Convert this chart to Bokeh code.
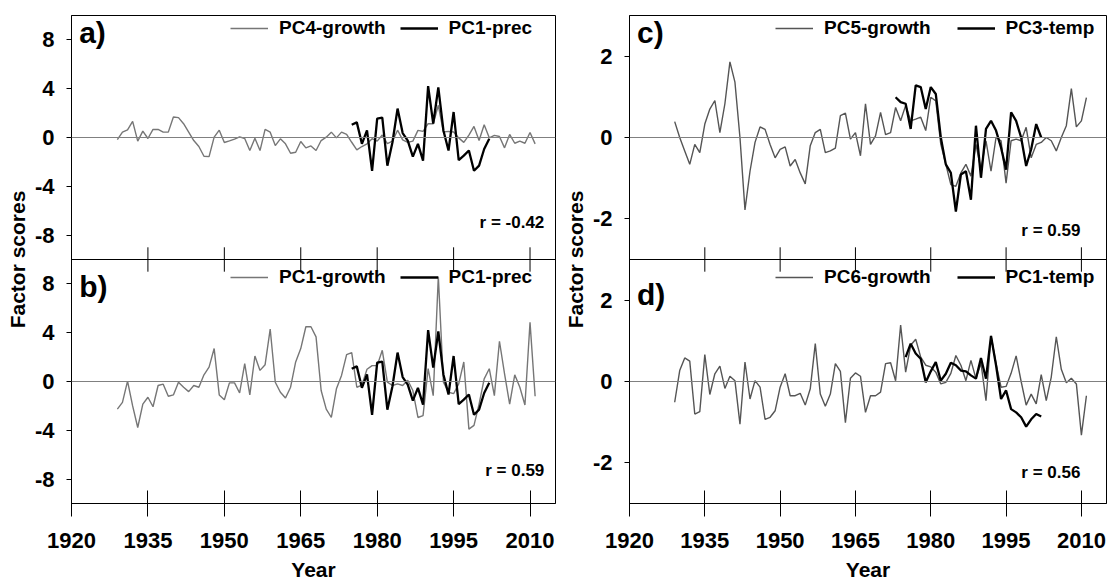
from bokeh.plotting import figure
from bokeh.models import (Range1d, FixedTicker, CustomJSTickFormatter, Span,
                          Legend, LegendItem, Label)
from bokeh.layouts import row
from bokeh.embed import file_html
from bokeh.resources import INLINE

# ---------------- data ----------------
growth_years = list(range(1929, 2012))
prec_years = list(range(1975, 2003))
temp3_years = list(range(1973, 2003))
temp1_years = list(range(1975, 2003))

pc4_growth = [-0.17, 0.44, 0.63, 1.32, -0.3, 0.52, -0.08, 0.66, 0.66, 0.44,
              0.44, 1.68, 1.63, 1.13, 0.44, -0.25, -0.74, -1.54, -1.57, 0.03,
              0.6, -0.41, -0.28, -0.14, 0.05, -0.08, -1.07, -0.06, -1.07, 0.66,
              0.44, -0.66, -0.11, -0.52, -1.29, -1.21, -0.33, -0.85, -0.69, -1.07,
              -0.25, 0.03, 0.44, -0.03, 0.44, 0.25, -0.39, -1.02, -0.74, -0.52,
              -0.1, -0.3, 0.2, -0.5, -0.3, 0.6, -0.2, -0.4, -0.3, 0.58,
              0.5, 1.13, 1.13, 2.64, 0.45, 0.5, 0.45, -0.03, -0.4, 0.2,
              0.91, -0.25, 1.05, -0.03, 0.17, 0.08, -0.85, 0.25, -0.47, -0.3,
              -0.47, 0.41, -0.52]

pc1_prec = [1.05, 1.24, -0.52, 0.58, -2.73, 1.54, 1.63, -2.31, -0.39, 2.37,
            0.36, -0.25, -1.57, -0.52, -1.9, 4.21, 1.13, 4.1, 0.58, -1.07,
            2.09, -1.85, -1.49, -1.07, -2.73, -2.31, -0.94, -0.11]

pc1_growth = [-2.26, -1.71, 0.03, -2.0, -3.77, -1.85, -1.29, -2.07, -0.33, -0.22,
              -1.21, -1.1, -0.06, -0.47, -0.83, -0.33, -0.47, 0.55, 1.18, 2.7,
              -1.1, -1.49, -0.11, -0.11, -0.94, 1.46, -1.1, 2.09, 0.91, 1.38,
              4.3, -0.06, -0.88, -1.35, -0.47, 1.6, 2.7, 4.49, 4.49, 3.66,
              -0.74, -2.26, -2.95, -0.6, 0.5, 2.2, 2.37, -0.47, -0.3, 1.0,
              1.3, 1.3, 2.56, -0.05, -0.33, -0.2, -0.33, 0.1, -0.74, -2.95,
              -2.8, 1.05, -1.16, 8.6, -0.05, -0.88, -1.0, -0.2, 1.6, -3.9,
              -3.6, -1.85, 0.22, 1.05, -1.16, 3.3, 0.63, -1.85, 0.55, -0.47,
              -1.93, 4.85, -1.21]

pc5_growth = [0.39, 0.0, -0.33, -0.66, -0.17, -0.37, 0.33, 0.7, 0.91, 0.12,
              0.83, 1.86, 1.36, 0.0, -1.78, -0.83, -0.12, 0.26, 0.2, -0.17,
              -0.5, -0.29, -0.23, -0.7, -0.54, -0.87, -1.14, -0.2, 0.12, 0.2,
              -0.37, -0.33, -0.26, 0.54, 0.6, -0.04, 0.12, -0.45, 0.83, -0.17,
              0.04, 0.62, 0.07, 0.12, 0.74, 0.41, 0.79, 0.41, 0.45, 0.5,
              0.17, 0.99, 0.9, -0.17, -0.66, -1.16, -1.2, -0.87, -0.66, -0.95,
              -0.17, -0.79, -0.08, -0.83, 0.0, -0.08, -1.12, -0.08, -0.04, -0.08,
              0.25, -0.5, -0.17, -0.12, 0.0, -0.08, -0.33, 0.0, 0.29, 1.2,
              0.26, 0.41, 0.98]

pc3_temp = [0.99, 0.87, 0.83, 0.21, 1.28, 1.24, 0.7, 1.24, 1.07, 0.0,
            -0.66, -0.87, -1.82, -0.91, -0.83, -1.53, 0.29, -0.99, 0.21, 0.41,
            0.17, -0.25, -0.79, 0.62, 0.41, 0.0, -0.7, -0.29, 0.33, 0.0]

pc6_growth = [-0.51, 0.27, 0.58, 0.5, -0.8, -0.74, 0.66, -0.32, 0.19, 0.38,
              -0.17, 0.13, 0.02, -1.05, 0.48, -0.43, 0.02, -0.14, -0.93, -0.88,
              -0.72, -0.14, 0.19, -0.35, -0.35, -0.29, -0.58, -0.18, 0.93, -0.31,
              -0.61, -0.31, 0.44, 0.25, -1.01, 0.08, 0.21, 0.13, -0.76, -0.35,
              -0.35, -0.26, 0.44, 0.46, 0.02, 1.39, 0.23, 0.89, 1.04, 0.6,
              0.4, 0.36, 0.23, -0.06, -0.02, 0.2, 0.64, 0.4, 0.02, 0.52,
              0.07, 0.45, -0.47, 1.12, 0.44, -0.14, -0.12, 0.2, 0.63, 0.0,
              -0.58, -0.31, -0.55, 0.17, -0.47, 0.11, 1.1, 0.3, -0.03, 0.08,
              -0.06, -1.32, -0.35]

pc1_temp = [0.6, 0.93, 0.69, 0.56, -0.02, 0.25, 0.48, 0.02, 0.19, 0.46,
            0.4, 0.27, 0.25, 0.15, 0.07, 0.58, 0.07, 1.12, 0.4, -0.43,
            -0.22, -0.68, -0.76, -0.88, -1.11, -0.93, -0.8, -0.86]

x_ticks = [1920, 1935, 1950, 1965, 1980, 1995, 2010]
left_ticks_a = [8, 4, 0, -4, -8]
right_ticks_c = [2, 0, -2]

panel_labels = ["a)", "b)", "c)", "d)"]
r_texts = ["r = -0.42", "r = 0.59", "r = 0.59", "r = 0.56"]

FONT = "Liberation Sans"
INK = "black"
GRAY_L = "#767676"
GRAY_R = "#555555"


def make_column(half, offset, ticks_top, yfmt_cut, width, border_left, border_right,
                top_series, bot_series, labels, rtexts, legend_x, legend_spacing,
                rlab_x, rlab_y, lab_y, tick_half):
    p = figure(width=width, height=584,
               x_range=Range1d(1920, 2015),
               y_range=Range1d(-3 * half, half),
               min_border_left=border_left, min_border_right=border_right,
               min_border_top=15, min_border_bottom=81,
               output_backend="svg", toolbar_location=None)
    p.extra_y_ranges = {"b": Range1d(-half, 3 * half)}
    p.xgrid.visible = False
    p.ygrid.visible = False
    p.outline_line_color = INK
    p.outline_line_width = 1
    p.outline_line_alpha = 1
    p.background_fill_color = "white"
    p.border_fill_color = "white"

    # x axis
    xa = p.xaxis[0]
    xa.ticker = FixedTicker(ticks=x_ticks)
    xa.axis_label = "Year"
    xa.axis_label_text_font = FONT
    xa.axis_label_text_font_style = "bold"
    xa.axis_label_text_font_size = "21px"
    xa.axis_label_text_color = INK
    xa.axis_label_standoff = 7
    xa.major_label_text_font = FONT
    xa.major_label_text_font_style = "bold"
    xa.major_label_text_font_size = "22px"
    xa.major_label_text_color = INK
    xa.major_label_standoff = 16
    xa.major_tick_in = 13
    xa.major_tick_out = 13
    xa.minor_tick_line_color = None
    xa.axis_line_color = INK
    xa.major_tick_line_color = INK

    # y axis (ticks of both stacked panels on one axis)
    ya = p.yaxis[0]
    all_ticks = ticks_top + [t - offset for t in ticks_top]
    ya.ticker = FixedTicker(ticks=all_ticks)
    ya.formatter = CustomJSTickFormatter(
        code="return String(tick < %s ? tick + %s : tick);" % (yfmt_cut, offset))
    ya.axis_label = "Factor scores"
    ya.axis_label_text_font = FONT
    ya.axis_label_text_font_style = "bold"
    ya.axis_label_text_font_size = "21px"
    ya.axis_label_text_color = INK
    ya.axis_label_standoff = 3
    ya.major_label_text_font = FONT
    ya.major_label_text_font_style = "bold"
    ya.major_label_text_font_size = "22px"
    ya.major_label_text_color = INK
    ya.major_label_standoff = 12
    ya.major_tick_in = 0
    ya.major_tick_out = 5
    ya.minor_tick_line_color = None
    ya.axis_line_color = INK
    ya.major_tick_line_color = INK

    # zero lines and panel boundary
    p.add_layout(Span(location=0, dimension="width", line_color="#808080", line_width=1))
    p.add_layout(Span(location=0, dimension="width", line_color="#808080", line_width=1,
                      y_range_name="b"))
    p.add_layout(Span(location=-half, dimension="width", line_color=INK, line_width=1))
    mid = x_ticks[1:]
    p.segment(x0=mid, y0=[-half - tick_half] * len(mid), x1=mid,
              y1=[-half + tick_half] * len(mid), line_color=INK, line_width=1)

    for i, (series, rng) in enumerate(zip([top_series, bot_series], ["default", "b"])):
        (gx, gy, gname, gcol), (bx, by, bname) = series
        rg = p.line(gx, gy, line_color=gcol, line_width=1.4, y_range_name=rng)
        rb = p.line(bx, by, line_color=INK, line_width=2.3, y_range_name=rng)
        ly = 464 if i == 0 else 215
        leg = Legend(items=[LegendItem(label=gname, renderers=[rg]),
                            LegendItem(label=bname, renderers=[rb])],
                     location=(legend_x, ly), orientation="horizontal",
                     background_fill_alpha=0, border_line_alpha=0,
                     label_text_font=FONT, label_text_font_style="bold",
                     label_text_font_size="19px", label_text_color=INK,
                     glyph_width=38, glyph_height=18,
                     label_standoff=11, spacing=legend_spacing, padding=0, margin=0,
                     label_height=18)
        p.add_layout(leg)
        p.add_layout(Label(x=1921.5, y=lab_y[i], text=labels[i], y_range_name=rng,
                           text_font=FONT, text_font_style="bold", text_color=INK,
                           text_font_size="30px", text_baseline="top",
                           text_align="left"))
        p.add_layout(Label(x=rlab_x, y=rlab_y[i], text=rtexts[i], y_range_name=rng,
                           text_font=FONT, text_font_style="bold", text_color=INK,
                           text_font_size="17px", text_baseline="middle",
                           text_align="right"))
    return p


left = make_column(
    half=10, offset=20, ticks_top=left_ticks_a, yfmt_cut=-10, width=560,
    border_left=71, border_right=5,
    top_series=((growth_years, pc4_growth, "PC4-growth", GRAY_L),
                (prec_years, pc1_prec, "PC1-prec")),
    bot_series=((growth_years, pc1_growth, "PC1-growth", GRAY_L),
                (prec_years, pc1_prec, "PC1-prec")),
    labels=panel_labels[:2], rtexts=r_texts[:2], legend_x=159, legend_spacing=14,
    rlab_x=2012.8, rlab_y=[-7.0, -7.3], lab_y=[10.0, 9.1], tick_half=1.0)

right = make_column(
    half=3, offset=6, ticks_top=right_ticks_c, yfmt_cut=-3, width=548,
    border_left=62, border_right=2,
    top_series=((growth_years, pc5_growth, "PC5-growth", GRAY_R),
                (temp3_years, pc3_temp, "PC3-temp")),
    bot_series=((growth_years, pc6_growth, "PC6-growth", GRAY_R),
                (temp1_years, pc1_temp, "PC1-temp")),
    labels=panel_labels[2:], rtexts=r_texts[2:], legend_x=146, legend_spacing=26,
    rlab_x=2009.8, rlab_y=[-2.29, -2.24], lab_y=[3.0, 2.55], tick_half=0.3)

layout = row(left, right, spacing=0)
open("out.html", "w").write(file_html(layout, INLINE))
